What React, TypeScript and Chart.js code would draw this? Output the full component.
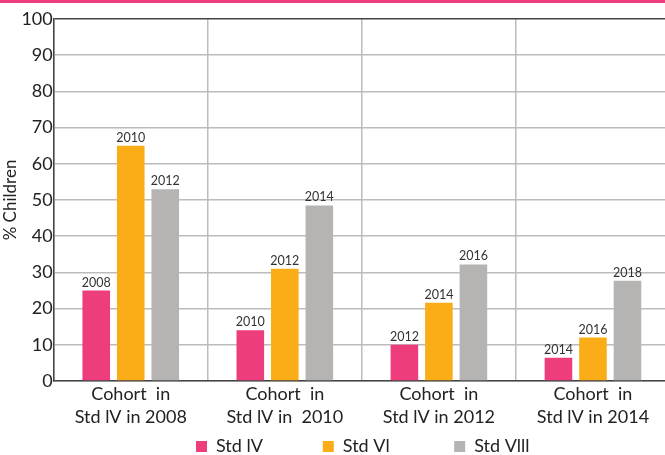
import React, { useEffect, useRef } from "react";
import { Chart, registerables } from "chart.js";

Chart.register(...registerables);

const categories: string[][] = [
  ["Cohort  in", "Std lV in 2008"],
  ["Cohort  in", "Std lV in  2010"],
  ["Cohort  in", "Std lV in 2012"],
  ["Cohort  in", "Std lV in 2014"],
];
const seriesNames = ["Std lV", "Std Vl", "Std Vlll"];
const stdIV = [25, 14, 10, 6.4];
const stdVI = [65, 31, 21.6, 12];
const stdVIII = [53, 48.5, 32.2, 27.7];
const labelsIV = ["2008", "2010", "2012", "2014"];
const labelsVI = ["2010", "2012", "2014", "2016"];
const labelsVIII = ["2012", "2014", "2016", "2018"];
const yTicks = [0, 10, 20, 30, 40, 50, 60, 70, 80, 90, 100];

const colors = ["#EE3D7D", "#FBAD18", "#B5B4B2"];
const FONT = "Lato";
const legendTrailing = [13, 14, 0];

const yearLabelPlugin = {
  id: "yearLabels",
  afterDatasetsDraw(chart: any) {
    const ctx = chart.ctx;
    const all = [labelsIV, labelsVI, labelsVIII];
    ctx.save();
    ctx.font = `12.5px ${FONT}`;
    ctx.fillStyle = "#333";
    ctx.textAlign = "center";
    ctx.textBaseline = "alphabetic";
    chart.data.datasets.forEach((ds: any, i: number) => {
      const meta = chart.getDatasetMeta(i);
      meta.data.forEach((bar: any, j: number) => {
        ctx.fillText(all[i][j], bar.x, bar.y - 4);
      });
    });
    ctx.restore();
  },
};

const legendPlacePlugin = {
  id: "legendPlace",
  afterLayout(chart: any) {
    const l = chart.legend;
    if (!l) return;
    l.left = 196;
    l.top += 8.5;
    l.bottom += 8.5;
  },
};

export default function App() {
  const ref = useRef<HTMLCanvasElement | null>(null);
  useEffect(() => {
    if (!ref.current) return;
    const chart = new Chart(ref.current, {
      type: "bar",
      data: {
        labels: categories as any,
        datasets: [
          { label: seriesNames[0], data: stdIV, backgroundColor: colors[0] },
          { label: seriesNames[1], data: stdVI, backgroundColor: colors[1] },
          { label: seriesNames[2], data: stdVIII, backgroundColor: colors[2] },
        ],
      },
      options: {
        animation: false,
        responsive: false,
        maintainAspectRatio: false,
        datasets: { bar: { categoryPercentage: 0.672, barPercentage: 0.8 } },
        layout: { padding: { top: 16, right: 0, left: 0, bottom: 0 } },
        plugins: {
          tooltip: { enabled: false },
          legend: {
            position: "bottom",
            align: "start",
            labels: {
              boxWidth: 11,
              boxHeight: 11,
              padding: 0,
              color: "#222",
              font: { family: FONT, size: 18 },
              generateLabels: (chart: any) => {
                const items = Chart.defaults.plugins.legend.labels.generateLabels(chart);
                return items.map((it: any, i: number) => ({
                  ...it,
                  text: it.text + " ".repeat(legendTrailing[i]),
                  lineWidth: 0,
                }));
              },
            },
          },
        },
        scales: {
          x: {
            grid: { color: "#bcbcbc", lineWidth: 1.5, drawTicks: false, offset: true },
            border: { color: "#444", width: 1.5 },
            afterFit: (axis: any) => {
              axis.height = 48;
            },
            ticks: {
              color: "#222",
              font: { family: FONT, size: 18, lineHeight: 1.3 },
              padding: 1,
              maxRotation: 0,
              autoSkip: false,
            },
          },
          y: {
            min: 0,
            max: 100,
            afterBuildTicks: (axis: any) => {
              axis.ticks = yTicks.map((v) => ({ value: v }));
            },
            grid: {
              color: (c: any) => (c.tick && c.tick.value === 100 ? "#444" : "#bcbcbc"),
              lineWidth: 1.5,
              drawTicks: false,
            },
            border: { color: "#444", width: 1.5 },
            ticks: {
              color: "#222",
              font: { family: FONT, size: 18 },
              padding: 1,
            },
            title: {
              display: true,
              text: "% Children",
              color: "#222",
              font: { family: FONT, size: 17 },
              padding: { top: 0, bottom: 0 },
            },
          },
        },
      },
      plugins: [yearLabelPlugin, legendPlacePlugin],
    });
    return () => chart.destroy();
  }, []);
  return (
    <div
      style={{
        position: "fixed",
        left: 0,
        top: 0,
        width: 665,
        height: 455,
        overflow: "hidden",
        background: "#fff",
      }}
    >
      <div style={{ height: 3, background: "#EE3D7D" }} />
      <canvas ref={ref} width={670} height={454} style={{ display: "block" }} />
    </div>
  );
}
